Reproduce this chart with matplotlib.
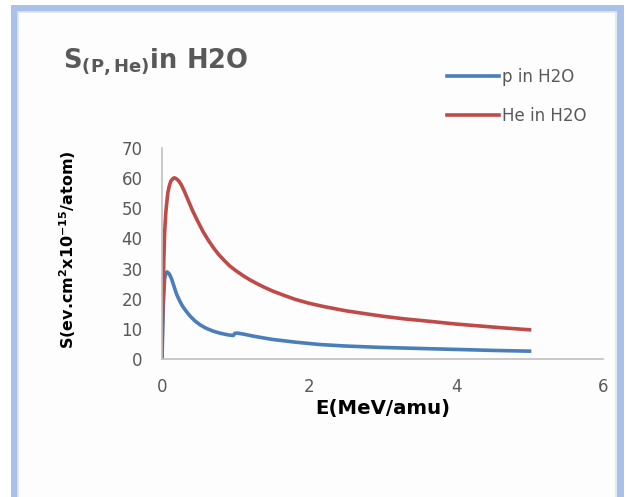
import matplotlib.pyplot as plt
from matplotlib.patches import Rectangle

# energy (MeV/amu) and stopping values
e_p = [0.0, 0.01, 0.02, 0.036, 0.05, 0.07, 0.1, 0.13, 0.17, 0.2, 0.24, 0.28, 0.33, 0.38, 0.45,
       0.52, 0.6, 0.7, 0.8, 0.9, 0.97, 0.99, 1.02, 1.1, 1.26, 1.5, 1.81, 2.15, 2.5, 2.97, 3.5,
       3.97, 4.5, 5.0]
s_p = [0.0, 10.0, 19.0, 26.6, 28.3, 28.9, 28.2, 26.6, 23.6, 21.4, 19.3, 17.5, 15.8, 14.3, 12.6,
       11.3, 10.2, 9.2, 8.5, 8.0, 7.8, 8.5, 8.6, 8.3, 7.5, 6.5, 5.6, 4.8, 4.3, 3.85, 3.5,
       3.2, 2.85, 2.6]

e_he = [0.0, 0.005, 0.014, 0.025, 0.036, 0.05, 0.06, 0.08, 0.1, 0.12, 0.15, 0.17, 0.2, 0.23, 0.26,
        0.3, 0.35, 0.42, 0.49, 0.56, 0.63, 0.7, 0.77, 0.85, 0.92, 1.0, 1.1, 1.2, 1.3, 1.4, 1.5,
        1.65, 1.81, 2.0, 2.2, 2.5, 2.8, 3.0, 3.3, 3.6, 4.0, 4.3, 4.6, 5.0]
s_he = [0.0, 12.0, 20.0, 33.0, 42.0, 48.0, 50.8, 55.2, 57.5, 59.0, 59.9, 60.1, 59.7, 59.0, 57.9,
        55.9, 53.0, 49.0, 45.5, 42.2, 39.4, 36.9, 34.7, 32.6, 30.9, 29.4, 27.7, 26.2, 24.9, 23.7, 22.6,
        21.2, 19.8, 18.5, 17.4, 16.0, 14.9, 14.2, 13.3, 12.6, 11.6, 11.0, 10.4, 9.7]

labels = ["p in H2O", "He in H2O"]
colors = ["#4a7ebb", "#be4b48"]

fig = plt.figure(figsize=(6.29, 4.97), dpi=100)
fig.patch.set_facecolor("white")

# chart frame (outer blue border plus a lighter inner line)
fig.patches.append(Rectangle((14 / 629, -0.05), 606 / 629, 1 - 8 / 497 + 0.05,
                             transform=fig.transFigure, facecolor="#fdfdfd",
                             edgecolor="#a9c0e8", linewidth=5, zorder=-10))
fig.patches.append(Rectangle((18 / 629, -0.05), 598 / 629, 1 - 12 / 497 + 0.05,
                             transform=fig.transFigure, facecolor="none",
                             edgecolor="#dce6f4", linewidth=1.2, zorder=-9))

ax = fig.add_axes([162 / 629, 1 - 359 / 497, 441 / 629, 211 / 497])
ax.set_facecolor("none")
ax.plot(e_p, s_p, color=colors[0], lw=2.6, label=labels[0])
ax.plot(e_he, s_he, color=colors[1], lw=2.6, label=labels[1])

ax.set_xlim(0, 6)
ax.set_ylim(0, 70)
ax.set_xticks([0, 2, 4, 6])
ax.set_yticks(range(0, 71, 10))
for side in ["top", "right"]:
    ax.spines[side].set_visible(False)
for side in ["left", "bottom"]:
    ax.spines[side].set_color("#bfbfbf")
    ax.spines[side].set_linewidth(1.2)
ax.tick_params(length=0, labelsize=12, labelcolor="#595959", pad=14)

ax.set_xlabel("E(MeV/amu)", fontsize=14.2, fontweight="bold")
ax.xaxis.set_label_coords(0.5, (359 - 399) / 211)
ax.set_ylabel(r"S(ev.cm$^\mathbf{2}$x10$^\mathbf{-15}$/atom)", fontsize=11.5, fontweight="bold")
ax.yaxis.set_label_coords((78 - 162) / 441, (359 - 250) / 211)

fig.text(63 / 629, 1 - 68 / 497, r"S$_\mathbf{(P,He)}$in H2O", fontsize=18.5, fontweight="bold",
         color="#595959")

ax.legend(loc="upper left", bbox_to_anchor=(432 / 629, 1 - 53 / 497), bbox_transform=fig.transFigure,
          frameon=False, prop={"size": 12}, labelcolor="#595959",
          handlelength=3.1, handletextpad=0.2, labelspacing=1.25)

fig.savefig("out.png", dpi=100)
